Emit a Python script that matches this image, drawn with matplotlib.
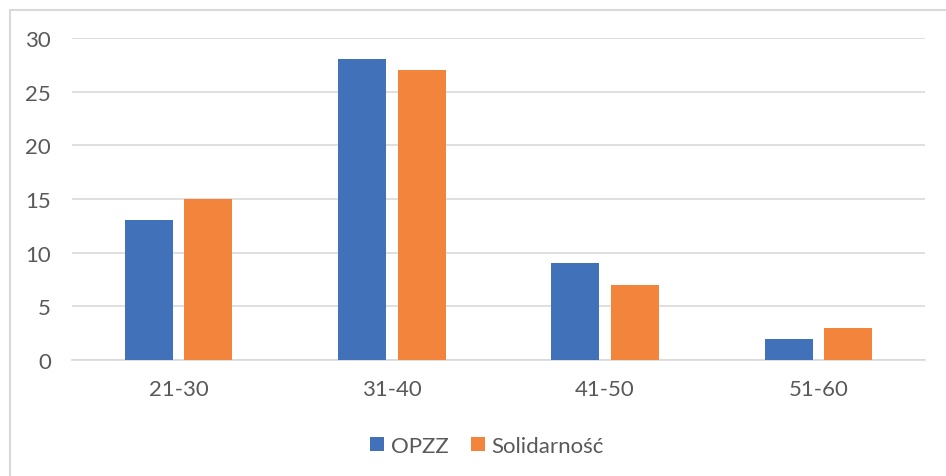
import matplotlib
matplotlib.use("Agg")
import matplotlib.pyplot as plt
from matplotlib.patches import Rectangle
import numpy as np

categories = ["21-30", "31-40", "41-50", "51-60"]
opzz = [13, 28, 9, 2]
solidarnosc = [15, 27, 7, 3]
series_names = ["OPZZ", "Solidarność"]
yticks = [0, 5, 10, 15, 20, 25, 30]

W, H = 946, 477
fig = plt.figure(figsize=(W / 100, H / 100), dpi=100)
plt.rcParams['font.family'] = ['Lato', 'DejaVu Sans']
text_color = "#595959"
fs = 16

ax = fig.add_axes([72 / W, (H - 361) / H, (925 - 72) / W, (361 - 39) / H])
x = np.arange(len(categories))
bw = 0.225
off = 0.14
ax.bar(x - off, opzz, bw, color="#4172B9", label=series_names[0], zorder=3)
ax.bar(x + off, solidarnosc, bw, color="#F2843B", label=series_names[1], zorder=3)

ax.set_xlim(-0.5, len(categories) - 0.5)
ax.set_ylim(0, 30)
ax.set_yticks(yticks)
ax.set_xticks(x)
ax.set_xticklabels(categories)
ax.grid(axis="y", color="#D9D9D9", linewidth=1.2, zorder=0)
for s in ["top", "right", "left"]:
    ax.spines[s].set_visible(False)
ax.spines["bottom"].set_color("#D9D9D9")
ax.spines["bottom"].set_linewidth(1.2)
ax.tick_params(axis="both", length=0, labelsize=fs, labelcolor=text_color)
ax.tick_params(axis="y", pad=15)
ax.tick_params(axis="x", pad=14)

leg = fig.legend(loc="center", bbox_to_anchor=(487 / W, 1 - 447 / H), ncol=2,
                 frameon=False, fontsize=fs, handlelength=0.63, handleheight=0.63,
                 handletextpad=0.3, columnspacing=1.0, borderpad=0)
for t in leg.get_texts():
    t.set_color(text_color)

fig.patches.append(Rectangle((10 / W, -0.1), 2, 1.1 - 11 / H, transform=fig.transFigure,
                             fill=False, edgecolor="#D9D9D9", linewidth=1.5))

fig.savefig("out.png", dpi=100)
